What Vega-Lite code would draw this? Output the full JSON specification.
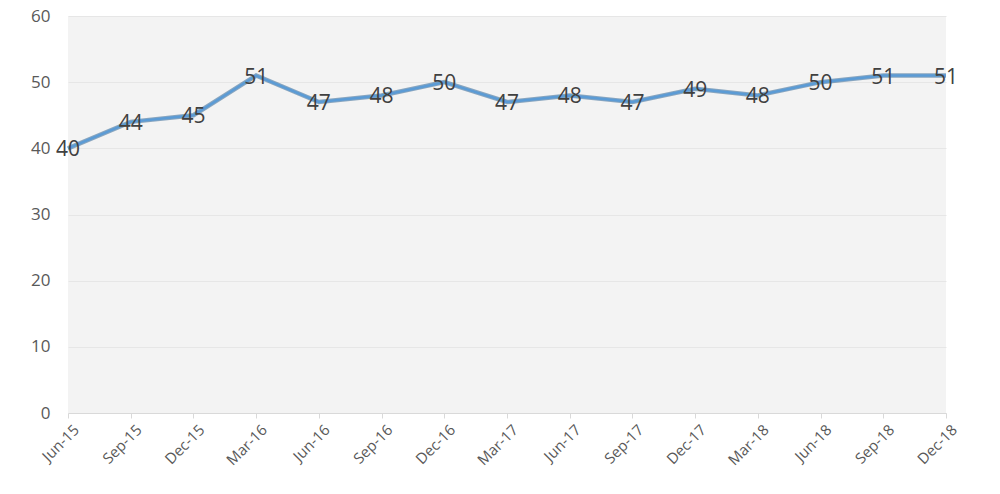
{
  "$schema": "https://vega.github.io/schema/vega-lite/v6.json",
  "autosize": {"type": "none"},
  "padding": {"left": 68, "top": 16, "right": 54, "bottom": 81},
  "width": 878,
  "height": 397,
  "background": "white",
  "config": {
    "view": {"fill": "#f3f3f3", "stroke": null},
    "font": "Open Sans"
  },
  "data": {
    "values": [
      {"period": "Jun-15", "value": 40},
      {"period": "Sep-15", "value": 44},
      {"period": "Dec-15", "value": 45},
      {"period": "Mar-16", "value": 51},
      {"period": "Jun-16", "value": 47},
      {"period": "Sep-16", "value": 48},
      {"period": "Dec-16", "value": 50},
      {"period": "Mar-17", "value": 47},
      {"period": "Jun-17", "value": 48},
      {"period": "Sep-17", "value": 47},
      {"period": "Dec-17", "value": 49},
      {"period": "Mar-18", "value": 48},
      {"period": "Jun-18", "value": 50},
      {"period": "Sep-18", "value": 51},
      {"period": "Dec-18", "value": 51}
    ]
  },
  "encoding": {
    "x": {
      "field": "period",
      "type": "ordinal",
      "sort": null,
      "scale": {"type": "point", "padding": 0},
      "axis": {
        "title": null,
        "labelAngle": -45,
        "labelAlign": "right",
        "labelBaseline": "middle",
        "labelFontSize": 15,
        "labelColor": "#595959",
        "labelPadding": 9,
        "labelOffset": 8,
        "domainColor": "#d9d9d9",
        "tickColor": "#d9d9d9",
        "tickSize": 5,
        "grid": false
      }
    },
    "y": {
      "field": "value",
      "type": "quantitative",
      "scale": {"domain": [0, 60]},
      "axis": {
        "title": null,
        "values": [0, 10, 20, 30, 40, 50, 60],
        "labelFontSize": 17,
        "labelColor": "#595959",
        "labelPadding": 18,
        "domain": false,
        "ticks": false,
        "gridColor": "#e6e6e6",
        "gridWidth": 1
      }
    }
  },
  "layer": [
    {
      "mark": {"type": "line", "color": "#41719c", "strokeWidth": 4.5, "opacity": 0.6}
    },
    {
      "mark": {"type": "line", "color": "#5b9bd5", "strokeWidth": 2.5}
    },
    {
      "mark": {"type": "text", "fontSize": 21, "color": "#404040", "baseline": "middle", "align": "center", "dy": 2},
      "encoding": {"text": {"field": "value", "type": "quantitative"}}
    }
  ]
}
